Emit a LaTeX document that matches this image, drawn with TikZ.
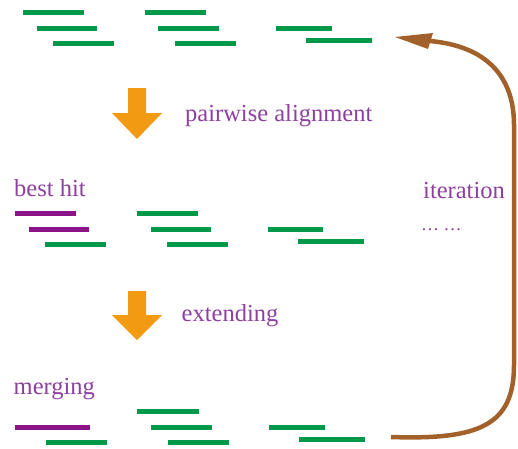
\documentclass[tikz,border=0pt]{standalone}
\usepackage{fontspec}
\setmainfont{Liberation Serif}
\definecolor{readgreen}{HTML}{00994A}
\definecolor{hitmagenta}{HTML}{8A1488}
\definecolor{labelpurple}{HTML}{8E3FA0}
\definecolor{steporange}{HTML}{F29A12}
\definecolor{loopbrown}{HTML}{A2612B}
\begin{document}
\begin{tikzpicture}[x=1pt,y=-1pt,
  read/.style={draw=readgreen,line width=5pt},
  hit/.style={draw=hitmagenta,line width=5pt},
  lbl/.style={text=labelpurple,font=\fontsize{24.5}{28}\selectfont,inner sep=0pt,anchor=base west},
  downarrow/.style={fill=steporange,draw=none}]
\useasboundingbox (0,0) rectangle (518,448);

% reads before alignment
\draw[read] (23,12) -- (84,12);
\draw[read] (37,28) -- (97,28);
\draw[read] (53,43) -- (114,43);
\draw[read] (145,12) -- (206,12);
\draw[read] (158,28) -- (219,28);
\draw[read] (175,43) -- (236,43);
\draw[read] (276,28) -- (332,28);
\draw[read] (306,40) -- (372,40);

% step 1
\fill[downarrow] (128,88) -- (146,88) -- (146,113) -- (162,113) -- (137,139) -- (112,113) -- (128,113) -- cycle;
\node[lbl] (pa) at (185,121) {pairwise alignment};

% best hit
\node[lbl] (bh) at (14,196.5) {best hit};
\draw[hit] (15,213) -- (76,213);
\draw[hit] (29,229) -- (89,229);
\draw[read] (45,244) -- (106,244);
\draw[read] (137,213) -- (198,213);
\draw[read] (151,229) -- (211,229);
\draw[read] (167,244) -- (228,244);
\draw[read] (268,229) -- (323,229);
\draw[read] (298,241) -- (364,241);

% step 2
\fill[downarrow] (128,291) -- (146,291) -- (146,315) -- (162,315) -- (137,340) -- (112,315) -- (128,315) -- cycle;
\node[lbl] (ext) at (181.5,321.5) {extending};

% merging
\node[lbl] (mg) at (13.5,394.5) {merging};
\draw[read] (137,411) -- (199,411);
\draw[hit] (15,427) -- (90,427);
\draw[read] (151,427) -- (212,427);
\draw[read] (269,427) -- (325,427);
\draw[read] (46,442) -- (107,442);
\draw[read] (168,442) -- (229,442);
\draw[read] (299,439) -- (365,439);

% iteration loop
\node[lbl] (it) at (423,198) {iteration};
\node[lbl] (dots) at (421,230) {\fontsize{18}{20}\selectfont\dots\ \dots};
\coordinate (loopstart) at (391,437);
\coordinate (loopend) at (430,41);
\draw[loopbrown,line width=4.5pt] (loopstart) .. controls (480,440) and (514,425) .. (514,365)
  -- (514,125) .. controls (514,75) and (485,46) .. (loopend);
\fill[loopbrown] (395,37) -- (433,33) -- (428,49) -- cycle;
\end{tikzpicture}
\end{document}
